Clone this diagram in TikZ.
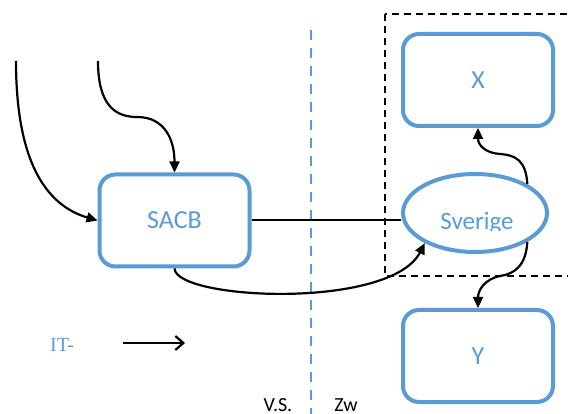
\documentclass[tikz,border=0pt]{standalone}
\usepackage{fontspec}
\setmainfont{Carlito}
\newfontfamily\serifit{Liberation Serif}
\usetikzlibrary{shapes.geometric,arrows.meta}
\definecolor{office}{RGB}{91,155,213}
\begin{document}
\begin{tikzpicture}[x=1pt,y=-1pt,
  box/.style={draw=office,line width=4pt,rounded corners=16pt,
    minimum width=150pt,minimum height=92pt,inner sep=0pt,
    text=office,font=\fontsize{26}{30}\selectfont},
  oval/.style={draw=office,line width=4pt,ellipse,inner sep=0pt,
    minimum width=144pt,minimum height=78pt},
  flow/.style={draw=black,line width=2.2pt,-{Triangle[length=11pt,width=10pt]}},
  plain/.style={draw=black,line width=2pt},
  label/.style={inner sep=0pt,font=\fontsize{20}{24}\selectfont},
  ]
\useasboundingbox (0,0) rectangle (568,414);

% country group frame and border line
\draw[line width=2pt,dash pattern=on 7pt off 5pt] (385,14) rectangle (580,276);
\draw[office,line width=2.5pt,dash pattern=on 10pt off 8pt] (311,30) -- (311,420);

% nodes
\node[box] (sacb) at (174.5,220.5) {SACB};
\node[box] (x) at (478,80) {X};
\node[box] (y) at (478,356) {Y};
\node[oval] (sv) at (475,213) {};
\begin{scope}
  \clip (400,170) rectangle (550,231);
  \node[label,text=office,anchor=base,font=\fontsize{25}{30}\selectfont] (svtext) at (477,230) {Sverige};
\end{scope}

% incoming flows
\coordinate (in1) at (16,61);
\coordinate (in2) at (98,61);
\draw[flow] (in1) .. controls (16,160) and (45,205) .. (sacb.west);
\draw[flow] (in2) .. controls (98,105) and (115,117) .. (137,117)
  .. controls (165,117) and (174.5,140) .. (sacb.north);

% SACB to Sverige
\draw[plain] (sacb.east) -- (sacb.east -| sv.west);
\draw[flow] (sacb.south) .. controls (176,300) and (390,310) .. (sv.211);

% Sverige to X and Y
\draw[flow] (sv.29) .. controls (526,160) and (515,155) .. (500,154)
  .. controls (485,153) and (478,145) .. (x.south);
\draw[flow] (sv.331) .. controls (526,265) and (515,274) .. (500,276)
  .. controls (485,279) and (478,290) .. (y.north);

% legend
\node[label,text=office,anchor=base west] (it) at (50,351) {\serifit IT-};
\coordinate (l1) at (123,343);
\coordinate (l2) at (185,343);
\draw[line width=2.2pt,-{Straight Barb[length=8pt,width=14pt]}] (l1) -- (l2);

% side labels along the lower edge
\node[label,anchor=base] (vs) at (278,411.5) {V.S.};
\node[label,anchor=base] (zw) at (346,411.5) {Zw};
\end{tikzpicture}
\end{document}
